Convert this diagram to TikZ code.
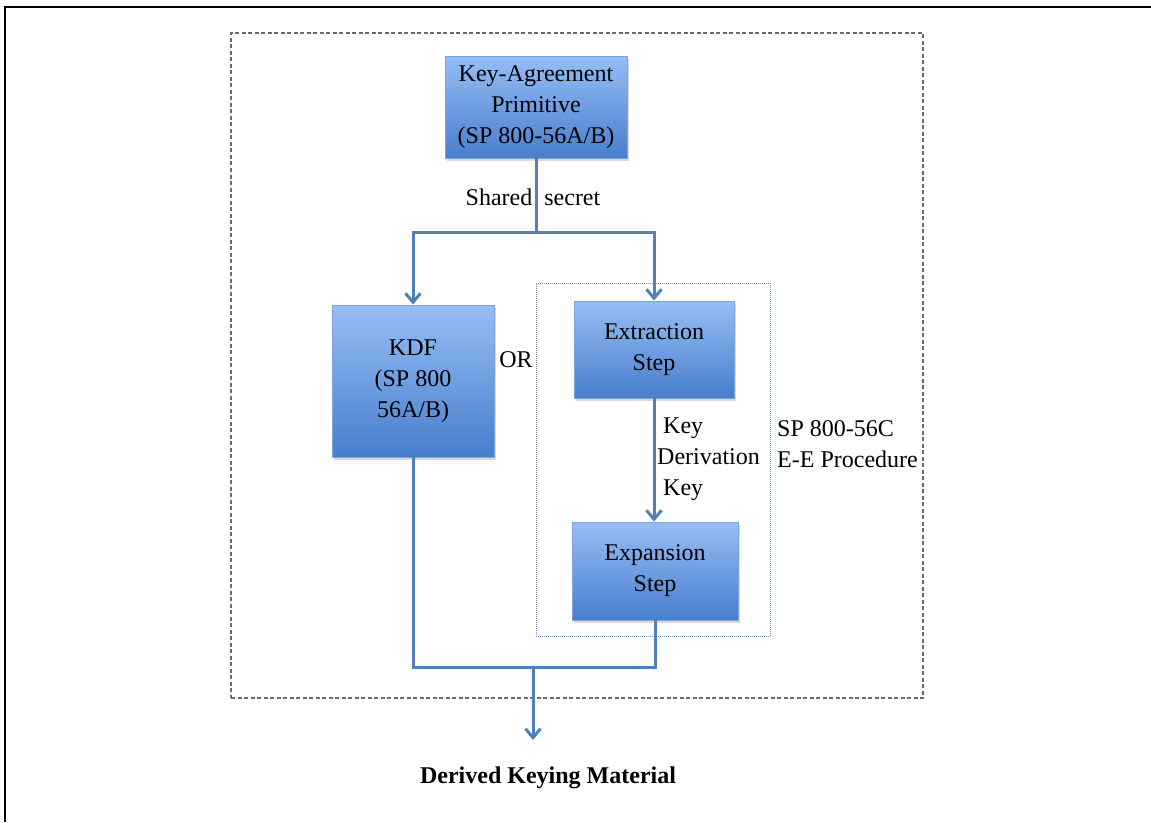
\documentclass[tikz,border=0pt]{standalone}
\usepackage{fontspec}
\setmainfont{Liberation Serif}
\usetikzlibrary{positioning}
\usetikzlibrary{arrows.meta,shadows}

\definecolor{flowblue}{RGB}{79,129,189}
\definecolor{boxtop}{RGB}{150,190,245}
\definecolor{boxbot}{RGB}{72,126,205}
\definecolor{boxedge}{RGB}{125,165,220}
\definecolor{framegray}{RGB}{105,105,105}
\definecolor{eegray}{RGB}{120,150,190}

\begin{document}
\begin{tikzpicture}[x=1pt,y=-1pt,>={Straight Barb[length=9pt,width=15pt]},
                    font=\fontsize{24}{31}\selectfont]
  \tikzstyle{block}=[draw=boxedge,line width=0.8pt,top color=boxtop,bottom color=boxbot,
                     align=center,inner sep=0pt,
                     drop shadow={shadow xshift=1.5pt,shadow yshift=-2.5pt,opacity=.3}]
  \tikzstyle{flow}=[draw=flowblue,line width=3pt]

  \useasboundingbox (0,0) rectangle (1151,822);
  \draw[line width=2.5pt] (5,822) -- (5,7) -- (1151,7);

  % frames
  \node[draw=framegray,dashed,line width=1.6pt,dash pattern=on 4pt off 2.5pt,
        minimum width=692pt,minimum height=665pt] (whole) at (577,365.5) {};
  \node[draw=eegray,densely dotted,line width=1pt,
        minimum width=234pt,minimum height=353pt] (ee) at (653,459.5) {};

  % boxes
  \node[block,minimum width=182pt,minimum height=102pt] (kap) at (536,107)
       {Key-Agreement\\Primitive\\(SP 800-56A/B)};
  \node[block,minimum width=162pt,minimum height=152pt] (kdf) at (413,381)
       {KDF\\(SP 800\\56A/B)};
  \node[block,minimum width=160pt,minimum height=97pt] (ext) at (654,349.5)
       {Extraction\\Step};
  \node[block,minimum width=166pt,minimum height=98pt] (exp) at (655,571)
       {Expansion\\Step};

  \coordinate (split) at (536,232);
  \coordinate (join) at (533,667);
  \coordinate (out) at (533,740);

  % connectors
  \draw[flow] (kap) -- (split);
  \draw[flow,->] (split) -| (kdf.north);
  \draw[flow,->] (split) -| (ext.north);
  \draw[flow,->] (ext.south) -- (ext.south |- exp.north);
  \draw[flow] (kdf.south) |- (join);
  \draw[flow] (exp.south) |- (join);
  \draw[flow,->] (join) -- (out);

  % labels
  \node (shared) at (533,197) {Shared\ \ secret};
  \node (or) at (516,360) {OR};
  \node[anchor=west,align=left,inner sep=0pt] (dk) at (657,459)
       {\ Key\\Derivation\\\ Key};
  \node[anchor=west,align=left,inner sep=0pt] (sp) at (777,444)
       {SP 800-56C\\E-E Procedure};
  \node[font=\fontsize{24}{31}\selectfont\bfseries] (dkm) at (548,778)
       {Derived Keying Material};

\end{tikzpicture}
\end{document}
